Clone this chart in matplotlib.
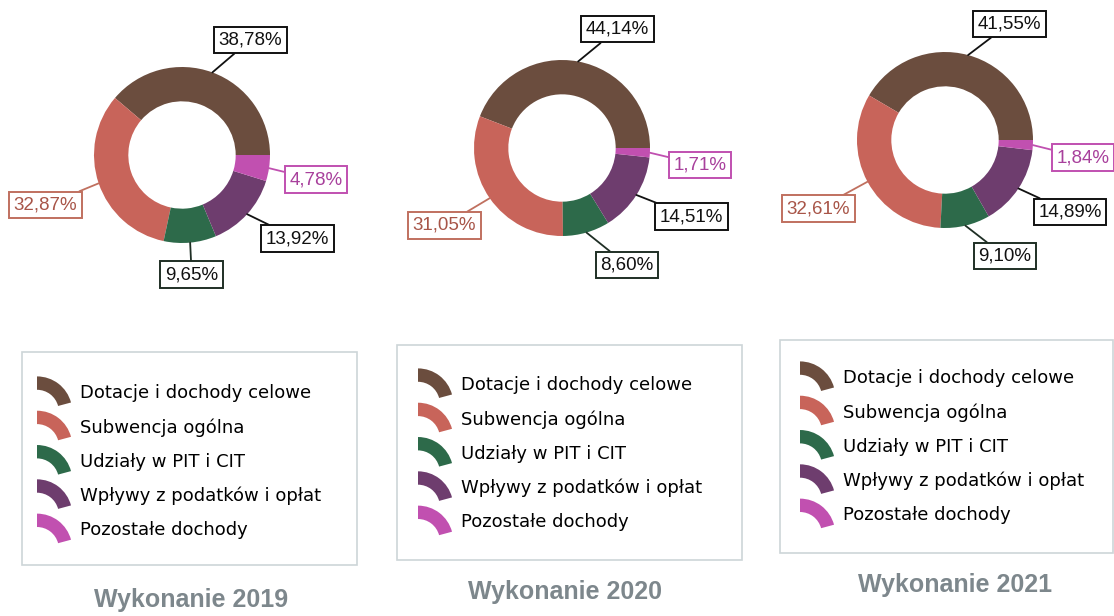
import numpy as np
import matplotlib
matplotlib.use('Agg')
import matplotlib.pyplot as plt
from matplotlib.patches import Patch, Wedge, Rectangle
from matplotlib.legend_handler import HandlerPatch

# dane
categories = ['Dotacje i dochody celowe', 'Subwencja ogólna', 'Udziały w PIT i CIT',
              'Wpływy z podatków i opłat', 'Pozostałe dochody']
years = ['2019', '2020', '2021']
share_2019 = [38.78, 32.87, 9.65, 13.92, 4.78]
share_2020 = [44.14, 31.05, 8.60, 14.51, 1.71]
share_2021 = [41.55, 32.61, 9.10, 14.89, 1.84]
shares = [share_2019, share_2020, share_2021]

colors = ['#6b4d3e', '#c8645a', '#2d6a4a', '#6e3d6e', '#c150b0']
label_text = ['#111111', '#a85548', '#111111', '#111111', '#a8409c']
label_edge = ['#111111', '#c0705f', '#1f2f25', '#111111', '#c050b0']

# uklad (piksele)
W, H = 1114, 616
R = 88
centers = [(182, 155), (562, 148), (945, 140)]
label_pos = [
    [(0.78, 1.31), (-1.55, -0.57), (0.11, -1.36), (1.31, -0.95), (1.52, -0.28)],
    [(0.63, 1.35), (-1.34, -0.88), (0.74, -1.33), (1.47, -0.78), (1.57, -0.19)],
    [(0.73, 1.32), (-1.44, -0.78), (0.68, -1.32), (1.42, -0.82), (1.57, -0.20)],
]
legend_boxes = [(22, 352, 357, 565), (397, 345, 742, 560), (780, 340, 1113, 553)]
legend_anchor = [(37, 461), (418, 453), (800, 446)]
title_pos = [(191, 600), (565, 592), (955, 585)]


def fx(px):
    return px / W


def fy(py):
    return 1 - py / H


class HandlerArc(HandlerPatch):
    # ikonka w legendzie jako fragment pierscienia
    def create_artists(self, legend, orig_handle, xdescent, ydescent,
                       width, height, fontsize, trans):
        r = width
        w = Wedge((-xdescent, -ydescent - 0.2 * r), r, 15, 90, width=0.38 * r,
                  facecolor=orig_handle.get_facecolor(), edgecolor='none')
        w.set_transform(trans)
        return [w]


fig = plt.figure(figsize=(W / 100, H / 100), dpi=100)
fig.patch.set_facecolor('white')

L = 2.4
for i, vals in enumerate(shares):
    cx, cy = centers[i]
    ax = fig.add_axes([fx(cx - L * R), fy(cy + L * R), 2 * L * R / W, 2 * L * R / H])
    wedges, _ = ax.pie(vals, colors=colors, startangle=0, counterclock=True,
                       radius=1, wedgeprops=dict(width=0.39, linewidth=0))
    ax.set_xlim(-L, L)
    ax.set_ylim(-L, L)
    ax.axis('off')

    for j, wdg in enumerate(wedges):
        ang = np.deg2rad((wdg.theta1 + wdg.theta2) / 2)
        txt = f'{vals[j]:.2f}%'.replace('.', ',')
        ax.annotate(txt, xy=(np.cos(ang), np.sin(ang)), xytext=label_pos[i][j],
                    ha='center', va='center', fontsize=13.5, family='Liberation Sans',
                    color=label_text[j], annotation_clip=False,
                    bbox=dict(boxstyle='square,pad=0.25', fc='white', ec=label_edge[j], lw=1.4),
                    arrowprops=dict(arrowstyle='-', color=label_edge[j], lw=1.3,
                                    shrinkA=0, shrinkB=0))

    # ramka legendy
    x0, y0, x1, y1 = legend_boxes[i]
    fig.patches.append(Rectangle((fx(x0), fy(y1)), (x1 - x0) / W, (y1 - y0) / H,
                                 transform=fig.transFigure, fill=False,
                                 edgecolor='#cdd5d8', lw=1.2))

    handles = [Patch(facecolor=c) for c in colors]
    ax_, ay_ = legend_anchor[i]
    fig.legend(handles, categories, loc='center left',
               bbox_to_anchor=(fx(ax_), fy(ay_)), frameon=False,
               handler_map={h: HandlerArc() for h in handles},
               prop={'family': 'DejaVu Sans', 'size': 13},
               handlelength=1.95, handleheight=1.7, labelspacing=0.55,
               handletextpad=0.45, borderpad=0, borderaxespad=0)

    tx, ty = title_pos[i]
    fig.text(fx(tx), fy(ty), f'Wykonanie {years[i]}', ha='center', va='center',
             fontsize=18, fontweight='bold', family='Liberation Sans', color='#7d878c')

plt.savefig('out.png', dpi=100)
